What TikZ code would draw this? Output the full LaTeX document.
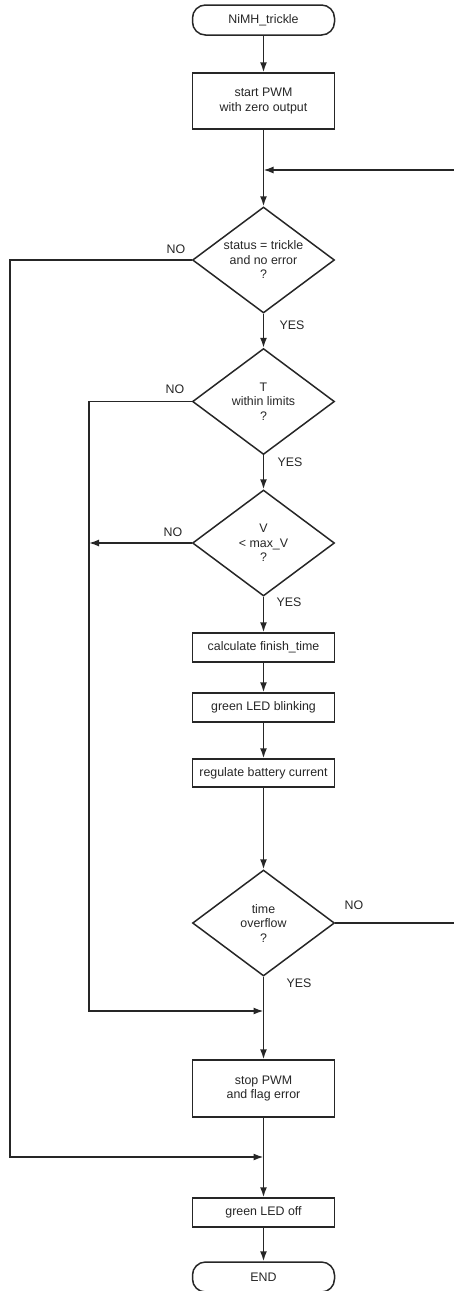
\documentclass[tikz,border=0pt]{standalone}
\usepackage{fontspec}
\setmainfont{Liberation Sans}
\usetikzlibrary{shapes.geometric,arrows.meta}

\begin{document}
\begin{tikzpicture}[x=1pt,y=-1pt,line width=1.5pt,color=black!85,
        font=\fontsize{12.4}{14.5}\selectfont,
        term/.style={draw,rectangle,rounded corners=13pt,minimum width=142pt,minimum height=30pt},
        box/.style={draw,rectangle,minimum width=142pt,inner sep=0pt,align=center},
        test/.style={draw,diamond,aspect=1.34,minimum width=142pt,minimum height=106pt,inner sep=0pt,align=center},
        flow/.style={-{Latex[length=10pt,width=7pt]}},
        lbl/.style={inner sep=0pt}]
        \useasboundingbox (0,0) rectangle (454,1291);
        % main column
        \node[term] (start) at (263.5,20) {NiMH\_trickle};
        \node[box,minimum height=56pt] (pwm) at (263.5,101) {start PWM\\with zero output};
        \coordinate (loop) at (263.5,170);
        \node[test] (d1) at (263.5,260) {status = trickle\\and no error\\?};
        \node[test] (d2) at (263.5,401.5) {T\\within limits\\?};
        \node[test] (d3) at (263.5,543) {V\\< max\_V\\?};
        \node[box,minimum height=29pt] (calc) at (263.5,647.5) {calculate finish\_time};
        \node[box,minimum height=29pt] (blink) at (263.5,707.5) {green LED blinking};
        \node[box,minimum height=28pt] (reg) at (263.5,773) {regulate battery current};
        \node[test] (d4) at (263.5,923) {time\\overflow\\?};
        \coordinate (j2) at (263.5,1011);
        \node[box,minimum height=57pt] (stop) at (263.5,1088.5) {stop PWM\\and flag error};
        \coordinate (j1) at (263.5,1157);
        \node[box,minimum height=29pt] (off) at (263.5,1212.5) {green LED off};
        \node[term] (end) at (263.5,1277) {END};
        % side lines
        \coordinate (l1) at (10,1157);
        \coordinate (l2) at (89,1011);
        \coordinate (back) at (458,923);
        % YES / NO
        \node[lbl] (y1) at (292,325) {YES};
        \node[lbl] (y2) at (290,462) {YES};
        \node[lbl] (y3) at (289,602) {YES};
        \node[lbl] (y4) at (299,983) {YES};
        \node[lbl] (n1) at (176,249) {NO};
        \node[lbl] (n2) at (175,389) {NO};
        \node[lbl] (n3) at (173,532) {NO};
        \node[lbl] (n4) at (354,905) {NO};
        % connectors
        \draw[flow] (start) -- (pwm);
        \draw[flow] (pwm) -- (d1);
        \draw[flow] (d1) -- (d2);
        \draw[flow] (d2) -- (d3);
        \draw[flow] (d3) -- (calc);
        \draw[flow] (calc) -- (blink);
        \draw[flow] (blink) -- (reg);
        \draw[flow] (reg) -- (d4);
        \draw[flow] (d4) -- (stop);
        \draw[flow] (stop) -- (off);
        \draw[flow] (off) -- (end);
        \draw[flow] (d1.west) -| (l1) -- (j1);
        \draw[flow] (d2.west) -| (l2) -- (j2);
        \draw[flow] (d3.west) -- (d3.west -| l2);
        \draw[flow] (d4.east) -- (back) |- (loop);
    \end{tikzpicture}
\end{document}
